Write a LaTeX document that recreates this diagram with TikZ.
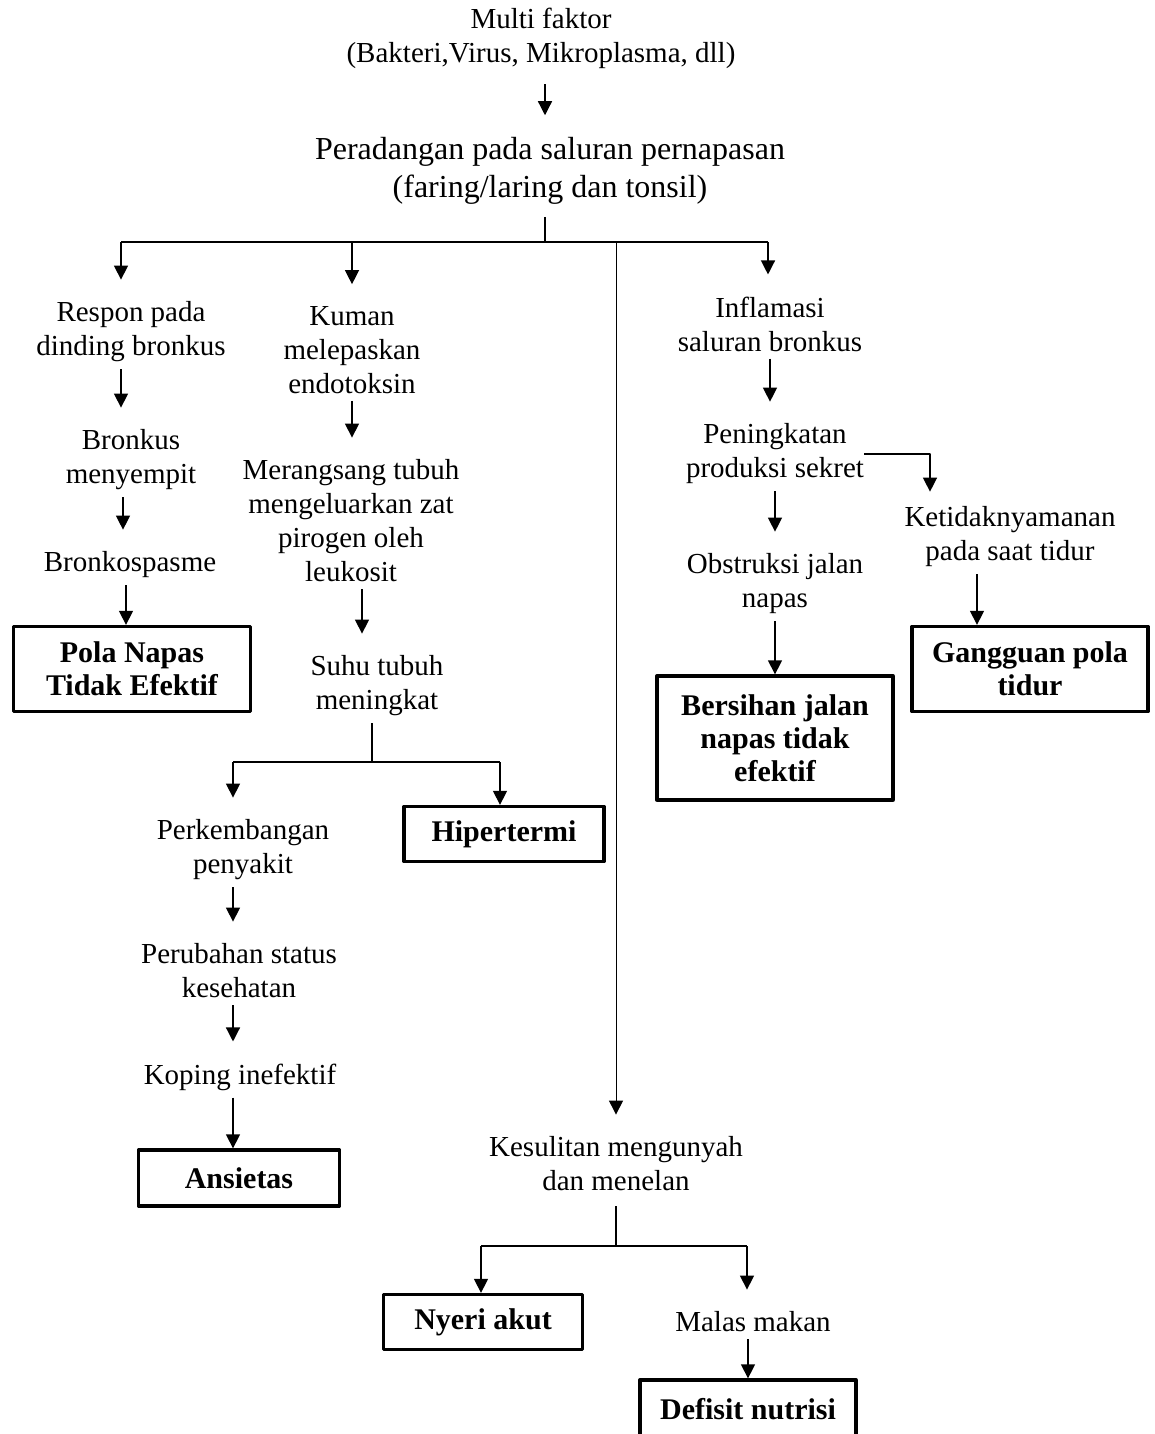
\documentclass[tikz,border=0pt]{standalone}
\usepackage{fontspec}
\setmainfont{Liberation Serif}
\usetikzlibrary{arrows.meta}

\tikzset{
	txt/.style={align=center,inner sep=0pt,font=\fontsize{29}{34}\selectfont},
	box/.style={draw,line width=3.3pt,align=center,inner sep=0pt,font=\fontsize{30}{33}\selectfont\bfseries},
	arr/.style={-{Triangle[width=14pt,length=14pt]},line width=1.3pt},
	gapa/.style={shorten <=7pt},
	gapb/.style={shorten >=22pt}
}

\begin{document}
\begin{tikzpicture}[x=1pt,y=-1pt,line join=round]
	\useasboundingbox (0,0) rectangle (1154,1434);
	% puncak
	\node[txt] (mf) at (541,38) {Multi faktor\\(Bakteri,Virus, Mikroplasma, dll)};
	\node[txt,font=\fontsize{32}{38}\selectfont] (rad) at (550,171) {Peradangan pada saluran pernapasan\\(faring/laring dan tonsil)};
	\path (545,242) coordinate (j0)
		(121,242) coordinate (bL)
		(352,242) coordinate (bK)
		(616,242) coordinate (bM)
		(768,242) coordinate (bR)
		(372,762) coordinate (j1)
		(233,762) coordinate (kL)
		(500,762) coordinate (kR)
		(616,1246) coordinate (j2)
		(481,1246) coordinate (nL)
		(747,1246) coordinate (nR)
		;
	
	% kolom kiri
	\node[txt] (resp) at (131,332) {Respon pada\\dinding bronkus};
	\node[txt] (brk) at (131,460) {Bronkus\\menyempit};
	\node[txt] (spasm) at (130,565) {Bronkospasme};
	\node[box,minimum width=237pt,minimum height=85pt] (pola) at (132,669) {Pola Napas\\Tidak Efektif};
	
	% kolom kedua
	\node[txt] (kuman) at (352,350) {Kuman\\melepaskan\\endotoksin};
	\node[txt] (rang) at (351,521) {Merangsang tubuh\\mengeluarkan zat\\pirogen oleh\\leukosit};
	\node[txt] (suhu) at (377,686) {Suhu tubuh\\meningkat};
	\node[txt] (kemb) at (243,850) {Perkembangan\\penyakit};
	\node[box,minimum width=200pt,minimum height=55pt] (hiper) at (504,834) {Hipertermi};
	\node[txt] (ubah) at (239,971) {Perubahan status\\kesehatan};
	\node[txt] (koping) at (240,1077) {Koping inefektif};
	\node[box,minimum width=201pt,minimum height=56pt] (ansi) at (239,1178) {Ansietas};
	
	% kolom tengah
	\node[txt] (sulit) at (616,1164) {Kesulitan mengunyah\\dan menelan};
	\node[box,minimum width=199pt,minimum height=55pt] (nyeri) at (483,1322) {Nyeri akut};
	\node[txt] (malas) at (753,1322) {Malas makan};
	\node[box,minimum width=216pt,minimum height=58pt] (defisit) at (748,1409) {Defisit nutrisi};
	
	% kolom kanan
	\node[txt] (infl) at (770,324) {Inflamasi\\saluran bronkus};
	\node[txt] (ningkat) at (775,454) {Peningkatan\\produksi sekret};
	\node[txt] (obst) at (775,584) {Obstruksi jalan\\napas};
	\node[box,minimum width=236pt,minimum height=124pt] (bersih) at (775,738) {Bersihan jalan\\napas tidak\\efektif};
	\node[txt] (ketid) at (1010,537) {Ketidaknyamanan\\pada saat tidur};
	\node[box,minimum width=236pt,minimum height=85pt] (gangg) at (1030,669) {Gangguan pola\\tidur};
	
	% percabangan atas
	\draw[arr,shorten <=16pt,gapb] (mf.south -| j0) -- (rad.north -| j0);
	\draw[line width=2pt,shorten <=12pt] (rad.south -| j0) -- (j0);
	\draw[line width=1.3pt] (bL) -- (bR);
	\draw[arr,gapb] (bL) -- (bL |- resp.north);
	\draw[arr,gapb] (bK) -- (kuman.north);
	\draw[arr,line width=1pt,gapb] (bM) -- (bM |- sulit.north);
	\draw[arr,gapb] (bR) -- (bR |- infl.north);
	
	\draw[arr,gapa,gapb] (resp.south -| bL) -- (brk.north -| bL);
	\draw[arr,gapa,gapb] ([xshift=-8pt]brk.south) -- ([xshift=-7pt]spasm.north);
	\draw[arr,gapa] ([xshift=-4pt]spasm.south) -- ([xshift=-6pt]pola.north);
	
	\draw[arr,gapa,gapb] (kuman.south) -- (kuman.south |- rang.north);
	\draw[arr,gapa,gapb] ([xshift=11pt]rang.south) -- ([xshift=-15pt]suhu.north);
	\draw[line width=2pt,gapa] (suhu.south -| j1) -- (j1);
	\draw[line width=1.3pt] (kL) -- (kR);
	\draw[arr,gapb] (kL) -- (kL |- kemb.north);
	\draw[arr] (kR) -- (kR |- hiper.north);
	\draw[arr,gapa,gapb] (kemb.south -| kL) -- (ubah.north -| kL);
	\draw[arr,gapa,gapb] (ubah.south -| kL) -- (koping.north -| kL);
	\draw[arr,gapa] (koping.south -| kL) -- (ansi.north -| kL);
	
	\draw[line width=2pt,shorten <=15pt] (sulit.south -| j2) -- (j2);
	\draw[line width=1.3pt] (nL) -- (nR);
	\draw[arr] (nL) -- (nL |- nyeri.north);
	\draw[arr,gapb] (nR) -- (nR |- malas.north);
	\draw[arr,gapa] (malas.south -| defisit.north) -- (defisit.north);
	
	\draw[arr,gapa,gapb] (infl.south) -- (infl.south |- ningkat.north);
	\draw[arr,gapa,gapb] (ningkat.south) -- (obst.north);
	\draw[arr,gapa] (obst.south) -- (bersih.north);
	\draw[arr,shorten >=15pt] (ningkat.east) -| ([xshift=-80pt]ketid.north);
	\draw[arr,gapa] ([xshift=-33pt]ketid.south) -- ([xshift=-53pt]gangg.north);
\end{tikzpicture}
\end{document}
